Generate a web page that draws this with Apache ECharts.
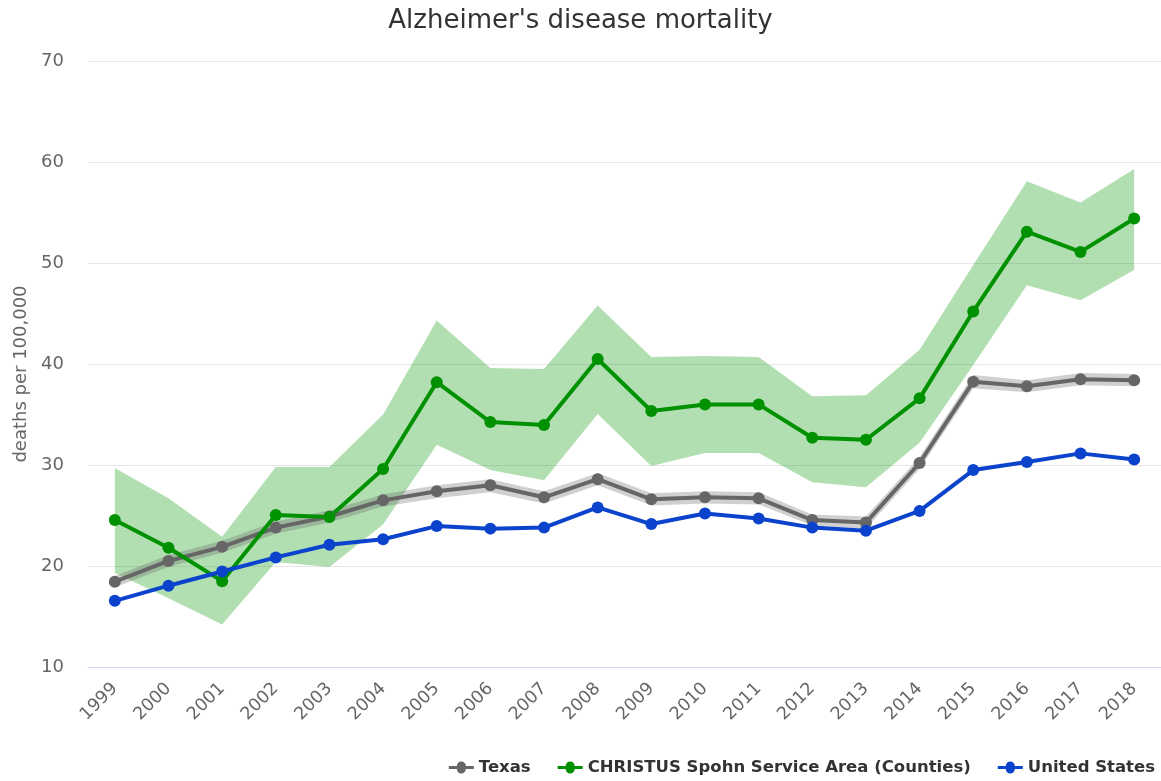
<!DOCTYPE html>
<html>
<head>
<meta charset="utf-8">
<title>Alzheimer's disease mortality</title>
<script src="https://cdn.jsdelivr.net/npm/echarts@6/dist/echarts.min.js"></script>
<style>
  html, body { margin: 0; padding: 0; background: #fff; }
  #chart { width: 1161px; height: 781px; }
</style>
</head>
<body>
<div id="chart"></div>
<script>
// Years on the x axis
const years = ['1999','2000','2001','2002','2003','2004','2005','2006','2007','2008',
               '2009','2010','2011','2012','2013','2014','2015','2016','2017','2018'];

// Deaths per 100,000
const texas = [18.45, 20.5, 21.9, 23.8, 24.9, 26.5, 27.4, 28.0, 26.8, 28.6,
               26.6, 26.8, 26.7, 24.55, 24.3, 30.2, 38.25, 37.8, 38.5, 38.4];
const texasLow = [17.9, 19.9, 21.3, 23.2, 24.3, 25.9, 26.7, 27.3, 26.2, 28.0,
                  26.0, 26.2, 26.1, 24.0, 23.7, 29.6, 37.6, 37.2, 37.9, 37.8];
const texasHigh = [19.0, 21.1, 22.5, 24.4, 25.5, 27.1, 28.0, 28.6, 27.4, 29.2,
                   27.2, 27.4, 27.3, 25.1, 24.9, 30.8, 38.9, 38.4, 39.1, 39.0];

const christus = [24.55, 21.8, 18.5, 25.05, 24.85, 29.6, 38.2, 34.25, 33.95, 40.5,
                  35.35, 36.0, 36.0, 32.7, 32.5, 36.6, 45.2, 53.1, 51.1, 54.4];
const christusLow = [19.3, 16.8, 14.2, 20.4, 19.9, 24.1, 32.0, 29.5, 28.5, 35.05,
                     29.9, 31.2, 31.2, 28.3, 27.8, 32.2, 39.9, 47.8, 46.3, 49.3];
const christusHigh = [29.7, 26.7, 22.9, 29.8, 29.8, 35.0, 44.3, 39.6, 39.5, 45.8,
                      40.7, 40.8, 40.7, 36.8, 36.9, 41.4, 49.8, 58.1, 56.0, 59.3];

const unitedStates = [16.55, 18.05, 19.45, 20.85, 22.1, 22.65, 23.95, 23.7, 23.8, 25.8,
                      24.15, 25.2, 24.7, 23.8, 23.5, 25.45, 29.5, 30.3, 31.15, 30.55];

const seriesNames = ['Texas', 'CHRISTUS Spohn Service Area (Counties)', 'United States'];

const GREY = '#666666';
const GREEN = '#009100';
const BLUE = '#0b43cc';

const font = "'DejaVu Sans', sans-serif";

// Legend symbol: short line with a dot in the middle
const legendIcon = 'path://M0,5 L8,5 A4.5,4.5 0 0 1 17,5 L25,5 L25,8 L17,8 A4.5,4.5 0 0 1 8,8 L0,8 Z';

function diff(hi, lo) { return hi.map((v, i) => +(v - lo[i]).toFixed(3)); }

function bandPair(name, lo, hi, color, z) {
  return [
    {
      name: name + ' low', type: 'line', data: lo, stack: name,
      symbol: 'none', lineStyle: { opacity: 0 }, silent: true, z: z,
      tooltip: { show: false }
    },
    {
      name: name + ' range', type: 'line', data: diff(hi, lo), stack: name,
      symbol: 'none', lineStyle: { opacity: 0 }, silent: true, z: z,
      areaStyle: { color: color, opacity: 1 }
    }
  ];
}

function mainLine(name, data, color) {
  return {
    name: name, type: 'line', data: data, color: color,
    symbol: 'circle', symbolSize: 12, z: 5,
    lineStyle: { width: 4, color: color },
    itemStyle: { color: color }
  };
}

const chart = echarts.init(document.getElementById('chart'), null, { renderer: 'canvas' });

chart.setOption({
  animation: false,
  backgroundColor: '#ffffff',
  textStyle: { fontFamily: font },
  title: {
    text: "Alzheimer's disease mortality",
    left: 'center', top: 3,
    textStyle: { fontSize: 26, fontWeight: 'normal', color: '#333333', fontFamily: font }
  },
  legend: {
    data: seriesNames,
    right: 1, bottom: 0,
    icon: legendIcon,
    itemWidth: 25, itemHeight: 12, itemGap: 27,
    textStyle: { fontSize: 16.5, fontWeight: 'bold', color: '#333333', fontFamily: font }
  },
  grid: { left: 88, right: -6, top: 61, bottom: 114, containLabel: false },
  xAxis: {
    type: 'category',
    data: years,
    boundaryGap: true,
    axisLine: { show: true, lineStyle: { color: '#ccd6eb', width: 1 } },
    axisTick: { show: false },
    axisLabel: { rotate: 45, color: '#666666', fontSize: 17.5, margin: 19, fontFamily: font, interval: 0 }
  },
  yAxis: {
    type: 'value',
    min: 10, max: 70, interval: 10,
    name: 'deaths per 100,000',
    nameLocation: 'middle', nameGap: 58,
    nameTextStyle: { color: '#666666', fontSize: 18, fontFamily: font, padding: [0, 20, 0, 0] },
    axisLine: { show: false },
    axisTick: { show: false },
    axisLabel: { color: '#666666', fontSize: 18, margin: 24, fontFamily: font },
    splitLine: { lineStyle: { color: '#e6e6e6', width: 1 } }
  },
  series: [
    ...bandPair('christus', christusLow, christusHigh, 'rgba(0,150,0,0.3)', 1),
    ...bandPair('texas', texasLow, texasHigh, 'rgba(100,100,100,0.3)', 2),
    mainLine(seriesNames[0], texas, GREY),
    mainLine(seriesNames[1], christus, GREEN),
    mainLine(seriesNames[2], unitedStates, BLUE)
  ]
});
</script>
</body>
</html>
